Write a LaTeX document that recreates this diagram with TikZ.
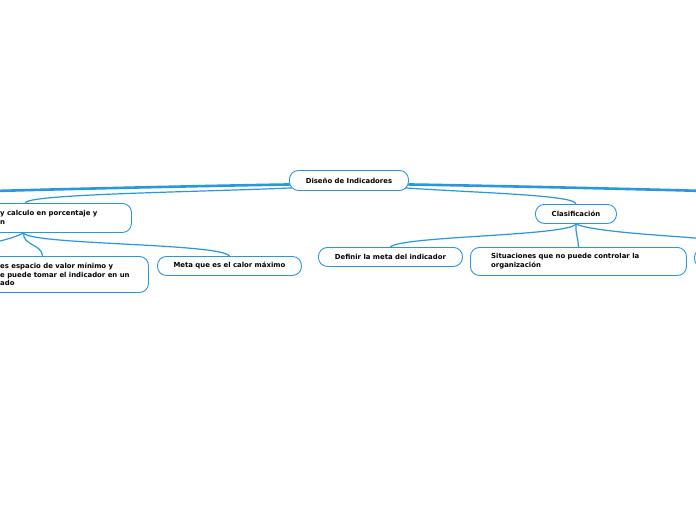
\documentclass[tikz,border=0pt]{standalone}
\usepackage{fontspec}
\newfontfamily\dv{DejaVu Sans}
\usetikzlibrary{backgrounds}
\definecolor{mblue}{RGB}{41,151,224}
\begin{document}
\begin{tikzpicture}[x=1pt,y=-1pt,
  every node/.style={font=\dv\bfseries\fontsize{6.9}{8.5}\selectfont, text=black},
  box/.style={draw=mblue, line width=0.9pt, rounded corners=9pt, fill=white, inner sep=0pt, anchor=north west},
  txt/.style={inner sep=0pt, align=left, anchor=west},
  thick branch/.style={draw=mblue, line width=2.6pt, line cap=round},
  thin branch/.style={draw=mblue, line width=1.2pt, line cap=round}]
\useasboundingbox (0,0) rectangle (696,520);
\clip (0,0) rectangle (696,520);
% boxes
\node[box, minimum width=119pt, minimum height=20pt] (root) at (289,170) {Diseño de Indicadores};
\node[box, minimum width=191pt, minimum height=29pt] (L1) at (-60,203) {};
\node[txt] (L1t) at (0,217.5) {y calculo en porcentaje y\\n};
\node[box, minimum width=208pt, minimum height=36pt] (L2) at (-60,256) {};
\node[txt] (L2t) at (0,274.5) {es espacio de valor mínimo y\\e puede tomar el indicador en un\\ado};
\node[box, minimum width=144pt, minimum height=19pt] (meta) at (157,256) {Meta que es el calor máximo};
\node[box, minimum width=81pt, minimum height=19pt] (clas) at (535,204) {Clasificación};
\node[box, minimum width=144pt, minimum height=19pt] (def) at (318,247) {Definir la meta del indicador};
\node[box, minimum width=216pt, minimum height=28pt] (sit) at (470,247) {};
\node[txt] (sitt) at (491,261) {Situaciones que no puede controlar la\\organización};
\node[box, minimum width=150pt, minimum height=19pt] (R) at (694,248) {};
\coordinate (offL) at (-40,192);
\coordinate (offR) at (740,192);
\coordinate (offL2) at (-40,250);
% connectors
\begin{scope}[on background layer]
\fill[white] (0,0) rectangle (696,520);
\draw[thick branch] ([yshift=-4pt]root.west) .. controls (200,186) and (60,189) .. (offL);
\draw[thick branch] ([yshift=-4pt]root.east) .. controls (500,186) and (640,189) .. (offR);
\draw[thin branch] ([xshift=3pt,yshift=3pt]root.south west) .. controls (200,192) and (25,194) .. ([xshift=-10.5pt]L1.north);
\draw[thin branch] ([xshift=-4pt,yshift=3pt]root.south east) .. controls (480,193) and (575.5,195) .. (clas.north);
\draw[thin branch] (clas.south) .. controls (570,236) and (400,236) .. (def.north);
\draw[thin branch] (clas.south) .. controls (575.5,235) and (578,236) .. (sit.north);
\draw[thin branch] (clas.south) .. controls (600,236) and (760,238) .. (R.north);
\draw[thin branch] ([xshift=-12.5pt]L1.south) .. controls (15,238) and (-10,244) .. (offL2);
\draw[thin branch] ([xshift=-12.5pt]L1.south) .. controls (23,246) and (42,244) .. ([xshift=-2pt]L2.north);
\draw[thin branch] ([xshift=-12.5pt]L1.south) .. controls (30,245) and (220,243) .. (meta.north);
\end{scope}
\end{tikzpicture}
\end{document}
